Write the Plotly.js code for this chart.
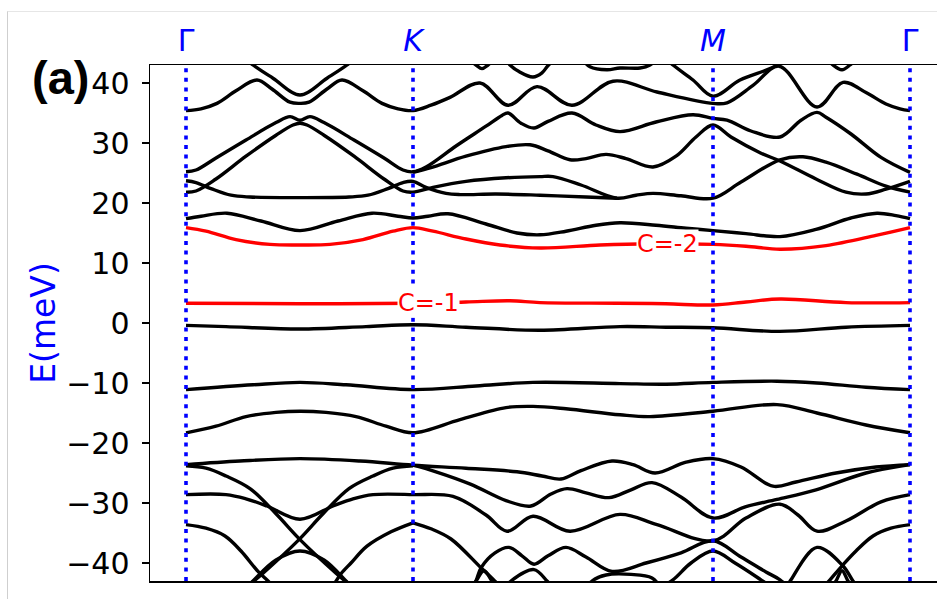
<!DOCTYPE html>
<html><head><meta charset="utf-8">
<script src="https://cdn.plot.ly/plotly-3.0.1.min.js"></script>
<style>
html,body{margin:0;padding:0;overflow:hidden;background:#fff;width:937px;height:599px}
#plot{position:absolute;left:0;top:0}
#frame{position:absolute;left:7px;top:11px;width:980px;height:620px;border-left:1px solid #cfcfcf;border-top:1px solid #e6e6e6;pointer-events:none;z-index:5}
</style></head><body>
<div id="plot"></div><div id="frame"></div>
<script>
// high-symmetry path (arb. path length units)
const kNodes = [0, 227, 527, 724];
const kLabels = ['Γ', '<i>K</i>', '<i>M</i>', 'Γ'];
const energyRange = [-43, 43];
const energyTicks = [-40, -30, -20, -10, 0, 10, 20, 30, 40];

// ---- bands: [k, E(meV)] ----
const bandU0a = [[54,44.8],[67,43.0],[87,40.8],[114,38.0],[141,40.8],[161,43.0],[174,44.8]];
const bandU0b = [[280,44.3],[290,43.0],[296,42.4],[302,43.0],[311,44.3],[318,44.3],[324,43.0],[333,41.9],[347,41.0],[356,41.7],[362,42.9],[374,44.8]];
const bandU0c = [[394,44.5],[404,42.7],[421,42.2],[434,42.5],[454,42.5],[464,43.0],[474,44.5]];
const bandU0d = [[470,45.5],[487,43.0],[507,40.5],[527,37.8],[554,40.5],[588,42.7],[604,44.5]];
const bandU0e = [[639,44.5],[647,43.0],[656,42.2],[664,43.0],[674,44.5]];
const bandU1 = [[0,35.4],[15,35.7],[31,36.6],[50,38.7],[71,40.5],[86,39.0],[104,36.8],[114,36.6],[123,36.8],[141,39.0],[156,40.5],[177,38.7],[196,36.6],[212,35.7],[227,35.4],
  [245,36.3],[264,37.6],[294,40.0],[322,36.3],[351,39.4],[386,36.3],[427,40.3],[471,38.5],[527,36.6],[541,36.7],[567,39.6],[593,42.8],[631,36.0],[657,40.1],[680,38.4],[700,36.5],[714,35.7],[724,35.4]];
const bandM1 = [[0,25.2],[10,25.5],[30,27.5],[60,30.5],[90,33.4],[104,34.4],[114,33.8],[124,34.4],[138,33.4],[168,30.5],[198,27.5],[217,25.5],[227,25.2],
  [240,26.0],[270,29.5],[300,32.8],[316,34.6],[322,35.0],[335,33.3],[348,32.5],[362,33.6],[386,35.0],[410,33.0],[434,31.9],[470,33.5],[507,34.7],[527,34.1],[541,33.8],[565,32.0],[594,31.0],[615,33.8],[631,35.1],[640,34.3],[665,31.5],[695,27.6],[724,25.1]];
const bandM2 = [[0,21.8],[10,22.0],[30,24.0],[60,27.8],[90,31.3],[107,33.0],[114,33.3],[121,33.0],[138,31.3],[168,27.8],[198,24.0],[217,22.0],[227,21.8],
  [247,22.6],[280,23.6],[320,24.2],[354,24.4],[367,24.4],[395,23.0],[431,20.8],[450,21.3],[467,21.6],[495,21.2],[527,20.8],[555,23.5],[594,27.2],[617,27.7],[640,26.8],[671,24.8],[700,22.8],[724,21.8]];
const bandM3 = [[0,23.7],[10,23.4],[25,22.4],[45,21.3],[64,21.0],[114,20.9],[163,21.0],[182,21.3],[202,22.4],[217,23.4],[227,23.6],
  [240,22.6],[260,21.6],[274,21.4],[310,21.5],[354,21.3],[400,21.0],[431,20.8]];
const bandP = [[227,25.1],[245,25.9],[280,27.8],[320,29.4],[344,29.7],[362,28.7],[384,27.2],[400,27.4],[420,28.1],[440,27.4],[467,26.0],[490,27.8],[510,31.0],[527,33.0],
  [545,31.0],[575,28.3],[594,27.0],[630,24.0],[660,21.8],[680,21.5],[700,22.3],[724,23.6]];
const band17 = [[0,17.4],[15,17.8],[41,18.3],[75,17.0],[114,15.4],[152,17.0],[186,18.3],[212,17.8],[227,17.5],[242,17.8],[262,18.2],[300,16.5],[331,15.0],[354,14.7],[380,15.3],[410,16.3],[434,16.7],[470,16.3],[500,15.8],[527,15.4],[560,14.9],[594,14.4],[630,15.6],[665,17.5],[691,18.3],[710,17.9],[724,17.4]];
const bandChernM2 = [[0,15.9],[20,15.3],[50,13.9],[84,13.1],[114,13.0],[144,13.1],[177,13.9],[207,15.3],[227,15.9],[247,15.3],[280,14.0],[314,13.0],[354,12.5],[414,13.0],[464,13.2],[527,13.1],[560,12.8],[594,12.3],[640,12.9],[690,14.6],[724,15.9]];
const bandChernM1 = [[0,3.3],[114,3.2],[227,3.3],[280,3.5],[324,3.7],[354,3.4],[431,3.3],[480,3.2],[527,3.0],[560,3.5],[594,4.0],[660,3.4],[724,3.4]];
const band0 = [[0,-0.4],[40,-0.6],[114,-1.0],[180,-0.6],[227,-0.3],[280,-0.7],[354,-1.2],[434,-0.6],[480,-0.7],[527,-0.8],[594,-1.4],[660,-0.7],[724,-0.4]];
const bandD1 = [[0,-11.1],[67,-10.3],[114,-9.9],[160,-10.3],[227,-11.1],[290,-10.5],[347,-9.9],[434,-10.1],[480,-10.2],[527,-9.9],[591,-9.7],[631,-10.0],[680,-10.7],[724,-11.1]];
const bandD2 = [[0,-18.3],[30,-17.2],[60,-15.6],[90,-14.9],[114,-14.7],[140,-14.9],[170,-15.6],[200,-17.2],[227,-18.3],[274,-16.1],[320,-14.1],[347,-13.9],[380,-14.3],[434,-15.3],[464,-15.6],[527,-14.7],[591,-13.6],[631,-15.0],[680,-17.0],[724,-18.3]];
const bandD3 = [[0,-23.6],[54,-23.0],[114,-22.6],[174,-23.0],[227,-23.7],[280,-24.2],[331,-24.8],[356,-25.5],[375,-26.0],[395,-24.6],[426,-23.0],[447,-23.6],[469,-25.0],[500,-23.2],[527,-22.6],[555,-24.0],[587,-27.2],[610,-26.5],[650,-25.0],[690,-24.0],[724,-23.6]];
const bandD4a = [[0,-23.8],[20,-24.2],[40,-25.5],[64,-27.6],[90,-31.8],[114,-36.1],[150,-41.7],[170,-44.5]];
const bandD4b = [[227,-23.8],[207,-24.2],[187,-25.5],[163,-27.6],[137,-31.8],[113,-36.1],[77,-41.7],[57,-44.5]];
const bandD5 = [[0,-28.6],[40,-28.6],[60,-29.3],[81,-30.5],[114,-32.7],[147,-30.5],[167,-29.3],[187,-28.6],[227,-28.6],
  [267,-28.9],[300,-32.0],[321,-34.7],[347,-32.2],[384,-34.7],[434,-31.9],[471,-33.6],[527,-36.3],[560,-32.5],[594,-30.2],[612,-32.0],[631,-34.7],[660,-33.0],[695,-29.8],[724,-28.6]];
const bandD6 = [[227,-23.7],[250,-24.8],[285,-26.9],[320,-29.6],[345,-30.5],[365,-28.5],[381,-27.6],[400,-28.3],[423,-29.1],[445,-27.8],[466,-26.6],[495,-29.0],[527,-32.5],[560,-30.6],[591,-29.4],[630,-27.8],[680,-25.0],[724,-23.6]];
const bandE1a = [[0,-33.6],[20,-34.2],[39,-35.5],[55,-38.0],[72,-41.4],[85,-43.5],[92,-45]];
const bandE1b = [[227,-33.3],[205,-34.8],[181,-37.2],[165,-40.0],[155,-41.8],[148,-43.5],[140,-45]];
const bandE1c = [[227,-33.3],[245,-34.3],[265,-36.0],[295,-40.8],[307,-42.7],[318,-44.5]];
const bandL1 = [[60,-44.2],[67,-43.0],[90,-39.5],[114,-38.0],[138,-39.5],[160,-43.0],[167,-44.2]];
const bandE2 = [[285,-44.5],[290,-43.0],[295,-40.8],[309,-38.3],[323,-37.4],[336,-38.8],[348,-40.2],[362,-38.8],[380,-37.4],[400,-39.0],[426,-41.4],[460,-40.0],[495,-38.3],[527,-36.3],[555,-39.0],[580,-41.5],[594,-42.8],[605,-44.5]];
const bandL2 = [[284,-44.3],[290,-43.0],[298,-41.3],[306,-43.0],[312,-44.3]];
const bandL3 = [[318,-44.3],[325,-43.0],[348,-41.1],[361,-43.0],[368,-44.3]];
const bandL4 = [[400,-44.2],[406,-43.0],[420,-42.0],[445,-41.9],[466,-42.5],[475,-44.2]];
const bandL5 = [[470,-44.5],[487,-42.8],[505,-40.0],[527,-38.0],[549,-40.0],[575,-42.8],[590,-44.5]];
const bandE3 = [[724,-33.6],[705,-34.2],[687,-35.5],[670,-38.0],[657,-40.3],[644,-42.8],[635,-44.5]];
const bandL6 = [[600,-44.2],[605,-42.8],[631,-37.4],[657,-40.5],[667,-43.0],[673,-44.2]];
const bandL7 = [[645,-44.2],[650,-43.0],[656,-41.3],[662,-43.0],[667,-44.2]];

const blackBands = [bandU0a,bandU0b,bandU0c,bandU0d,bandU0e,bandU1,bandM1,bandM2,bandM3,bandP,band17,band0,
  bandD1,bandD2,bandD3,bandD4a,bandD4b,bandD5,bandD6,bandE1a,bandE1b,bandE1c,bandL1,bandE2,bandL2,bandL3,bandL4,bandL5,bandE3,bandL6,bandL7];
const redBands = [bandChernM1, bandChernM2];
const chernLabels = ['C=-1', 'C=-2'];
const chernLabelPos = [[242, 3.4], [481, 13.1]];

const FONT = 'DejaVu Sans, sans-serif';
function bandTrace(pts, color) {
  return {x: pts.map(p => p[0]), y: pts.map(p => p[1]), mode: 'lines', type: 'scatter',
    line: {color: color, width: 3.4, shape: 'spline', smoothing: 1}, hoverinfo: 'skip', showlegend: false};
}
const traces = [];
blackBands.forEach(b => traces.push(bandTrace(b, '#000000')));
redBands.forEach(b => traces.push(bandTrace(b, '#ff0000')));
kNodes.forEach(k => traces.push({x: [k, k], y: energyRange, mode: 'lines', type: 'scatter',
  line: {color: '#0000ff', width: 3.6, dash: '4px,5.6px'}, hoverinfo: 'skip', showlegend: false}));

const annotations = chernLabels.map((t, i) => ({x: chernLabelPos[i][0], y: chernLabelPos[i][1], xref: 'x', yref: 'y',
  text: t, showarrow: false, font: {family: FONT, size: 24, color: '#ff0000'}, bgcolor: '#ffffff', borderpad: 0,
  xanchor: 'center', yanchor: 'middle'}));
annotations.push({xref: 'paper', yref: 'paper', x: -0.112, y: 0.975, text: '<b>(a)</b>', showarrow: false,
  font: {family: 'Liberation Sans, Arial, sans-serif', size: 47, color: '#000'}, xanchor: 'center', yanchor: 'middle'});

const layout = {
  width: 950, height: 599,
  margin: {l: 150, r: 4, t: 65, b: 18},
  paper_bgcolor: 'rgba(0,0,0,0)', plot_bgcolor: '#ffffff',
  font: {family: FONT, color: '#000'},
  xaxis: {range: [-36, 760], side: 'top', tickvals: kNodes, ticktext: kLabels, ticks: '',
    tickfont: {family: FONT, size: 30, color: '#0000ff'}, ticklabelstandoff: 1,
    showline: true, linecolor: '#000', linewidth: 1.5, mirror: true, showgrid: false, zeroline: false},
  yaxis: {range: energyRange, tickvals: energyTicks, ticks: 'outside', ticklen: 7, tickwidth: 1.5, tickcolor: '#000',
    tickfont: {family: FONT, size: 30, color: '#000'}, ticklabelstandoff: 6,
    showline: true, linecolor: '#000', linewidth: 1.5, mirror: true, showgrid: false, zeroline: false,
    title: {text: 'E(meV)', font: {family: FONT, size: 33, color: '#0000ff'}, standoff: 0}},
  annotations: annotations
};
Plotly.newPlot('plot', traces, layout, {displayModeBar: false, staticPlot: true});
</script></body></html>
